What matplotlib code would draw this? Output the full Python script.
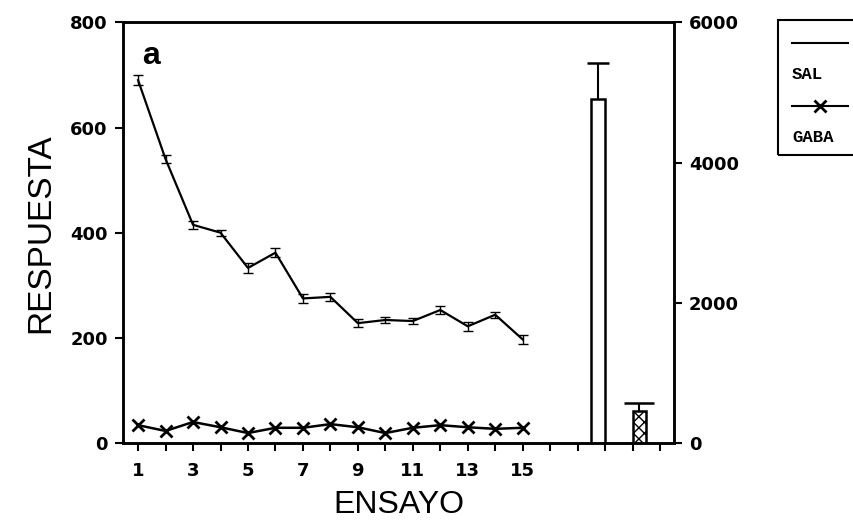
import matplotlib
matplotlib.use("Agg")
import matplotlib.pyplot as plt
from matplotlib.font_manager import FontProperties
from matplotlib.lines import Line2D
from matplotlib.patches import Rectangle

# Per-trial response, mean and SEM
trials = list(range(1, 16))
sal_mean = [690, 540, 415, 400, 333, 362, 275, 278, 228, 234, 232, 253, 222, 244, 197]
sal_sem = [10, 8, 8, 6, 9, 8, 8, 7, 7, 6, 6, 8, 9, 6, 8]
gaba_mean = [34, 23, 40, 30, 19, 29, 29, 36, 30, 19, 29, 34, 30, 27, 29]

# Totals (right axis)
bar_pos = [17.75, 19.25]
bar_vals = [4900, 450]
bar_err = [520, 120]
bar_hatch = ["", "xxx"]
bar_caps = [8, 11]

x_ticks = list(range(1, 21))
x_labels = [str(t) if (t % 2 == 1 and t <= 15) else "" for t in x_ticks]

tick_font = {"family": "DejaVu Sans", "weight": "bold", "size": 13}

fig = plt.figure(figsize=(8.54, 5.2), dpi=100)
ax = fig.add_axes([0.144, 0.148, 0.645, 0.809])

ax.errorbar(trials, sal_mean, yerr=sal_sem, color="black", lw=1.6,
            elinewidth=1.0, capsize=3.6, capthick=1.0)
ax.plot(trials, gaba_mean, color="black", lw=1.8, marker="x",
        markersize=9, markeredgewidth=2)

ax.set_xlim(0.45, 20.5)
ax.set_ylim(0, 800)
ax.set_yticks([0, 200, 400, 600, 800])
ax.set_xticks(x_ticks)
ax.set_xticklabels(x_labels)
for lbl in ax.get_xticklabels() + ax.get_yticklabels():
    lbl.set_fontproperties(FontProperties(**tick_font))
ax.tick_params(axis="both", direction="out", length=6, width=1.5)
ax.tick_params(axis="x", pad=8)
ax.tick_params(axis="y", pad=5)
for s in ax.spines.values():
    s.set_linewidth(1.8)

ax.set_xlabel("ENSAYO", family="Liberation Sans", fontsize=23, va="baseline")
ax.xaxis.set_label_coords(0.5, -0.166)
ax.set_ylabel("RESPUESTA", family="Liberation Sans", fontsize=24, labelpad=10)
ax.text(0.035, 0.955, "a", transform=ax.transAxes, family="Liberation Sans",
        fontweight="bold", fontsize=23, va="top", ha="left")

ax2 = ax.twinx()
ax2.set_ylim(0, 6000)
ax2.set_yticks([0, 2000, 4000, 6000])
for pos, val, err, h, cap in zip(bar_pos, bar_vals, bar_err, bar_hatch, bar_caps):
    ax2.bar(pos, val, width=0.5, color="white", edgecolor="black",
            linewidth=1.8, hatch=h)
    # upward error only
    _, caplines, _ = ax2.errorbar(pos, val, yerr=[[0], [err]], color="black",
                                  lw=1.5, capsize=cap, capthick=1.8)
    caplines[0].set_visible(False)
for lbl in ax2.get_yticklabels():
    lbl.set_fontproperties(FontProperties(**tick_font))
ax2.tick_params(axis="y", direction="out", length=6, width=1.5, pad=5)
for s in ax2.spines.values():
    s.set_linewidth(1.8)

# Legend box: label text sits under each line sample
fig.add_artist(Rectangle((778 / 854, 1 - 155 / 520), 90 / 854, 135 / 520,
                         transform=fig.transFigure, fill=False,
                         edgecolor="black", lw=1.5))
fig.add_artist(Line2D([792 / 854, 848 / 854], [1 - 43 / 520] * 2,
                      transform=fig.transFigure, color="black", lw=1.5))
fig.add_artist(Line2D([792 / 854, 848 / 854], [1 - 106 / 520] * 2,
                      transform=fig.transFigure, color="black", lw=1.5))
fig.add_artist(Line2D([820 / 854], [1 - 106 / 520], transform=fig.transFigure,
                      color="black", marker="x", markersize=8,
                      markeredgewidth=2))
fig.text(792 / 854, 1 - 75 / 520, "SAL", family="Liberation Mono",
         fontweight="bold", fontsize=12.5, va="center", ha="left")
fig.text(792 / 854, 1 - 137 / 520, "GABA", family="Liberation Mono",
         fontweight="bold", fontsize=12.5, va="center", ha="left")

fig.savefig("out.png", dpi=100)
